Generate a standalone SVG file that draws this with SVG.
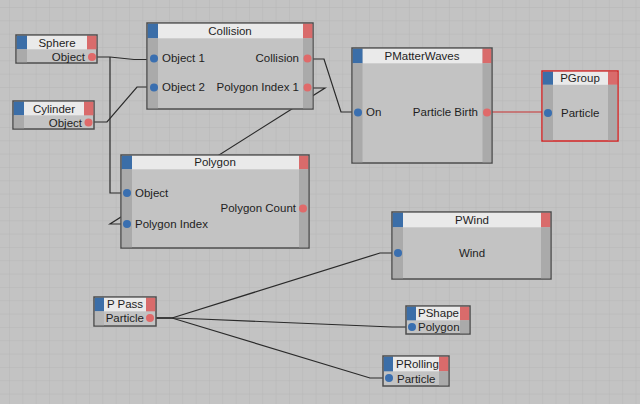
<svg xmlns="http://www.w3.org/2000/svg" width="640" height="404" viewBox="0 0 640 404">
<defs>
<pattern id="grid" x="9" y="7" width="13.33" height="13.33" patternUnits="userSpaceOnUse">
<path d="M0 0H13.33M0 0V13.33" stroke="#b6b6b6" stroke-width="1" fill="none"/>
</pattern>
<style>
.t{font-family:"Liberation Sans",Arial,sans-serif;font-size:11.5px;fill:#1e1e1e}
.m{text-anchor:middle}
.e{text-anchor:end}
.nb{fill:#c3c3c3;stroke:#4e4e4e;stroke-width:1.5}
.col{fill:#aaaaaa}
.hd{fill:#eaeaea}
.bl{fill:#3b6ea8}
.rd{fill:#d96b6b}
.pi{fill:#3a6fb0}
.po{fill:#e06a6a}
.w{fill:none;stroke:#2a2a2a;stroke-width:1.2}
</style>
</defs>
<rect width="640" height="404" fill="#c3c3c3"/>
<rect width="640" height="404" fill="url(#grid)"/>

<g id="connectors">
<polyline class="w" points="97,57 110,57 134,59.5 150,59.5"/>
<polyline class="w" points="110,57 110,193 126,193"/>
<polyline class="w" points="94,122 107,122 137,87 150,87"/>
<polyline class="w" points="313,59 324,59 341,112 355,112"/>
<polyline class="w" points="313,88 325,88 110,224 126,224"/>
<polyline fill="none" stroke="#c83030" stroke-width="1.2" points="492,112 545,112"/>
<polyline class="w" points="156,318 172,318 380,253 395,253"/>
<polyline class="w" points="156,318 172,318 200,319 392,327 409,327"/>
<polyline class="w" points="156,318 172,318 370,378 386,378"/>
</g>

<g id="sphere">
<rect class="nb" x="16" y="35" width="81" height="28"/>
<rect class="hd" x="27" y="35.8" width="60" height="13.5"/>
<rect class="bl" x="16.8" y="35.8" width="10.2" height="13.5"/>
<rect class="rd" x="87" y="35.8" width="9.4" height="13.5"/>
<rect class="col" x="16.8" y="49.3" width="10.2" height="13"/>
<text class="t m" x="57" y="47">Sphere</text>
<text class="t e" x="85" y="61">Object</text>
<circle class="po" cx="92" cy="57" r="4"/>
</g>

<g id="cylinder">
<rect class="nb" x="13" y="101" width="81" height="28"/>
<rect class="hd" x="24" y="101.8" width="60" height="13.5"/>
<rect class="bl" x="13.8" y="101.8" width="10.2" height="13.5"/>
<rect class="rd" x="84" y="101.8" width="9.4" height="13.5"/>
<rect class="col" x="13.8" y="115.3" width="10.2" height="13"/>
<text class="t m" x="54" y="113">Cylinder</text>
<text class="t e" x="82" y="127">Object</text>
<circle class="po" cx="88.5" cy="122.5" r="4"/>
</g>

<g id="collision">
<rect class="nb" x="147" y="23" width="166" height="86"/>
<rect class="hd" x="158" y="23.8" width="145" height="14.5"/>
<rect class="bl" x="147.8" y="23.8" width="10.2" height="14.5"/>
<rect class="rd" x="303" y="23.8" width="9.4" height="14.5"/>
<rect class="col" x="147.8" y="38.3" width="10.2" height="70"/>
<rect class="col" x="303" y="38.3" width="9.4" height="70"/>
<text class="t m" x="230" y="35">Collision</text>
<text class="t" x="162" y="62">Object 1</text>
<text class="t" x="162" y="91">Object 2</text>
<text class="t e" x="299" y="62">Collision</text>
<text class="t e" x="299" y="91">Polygon Index 1</text>
<circle class="pi" cx="154" cy="58.5" r="4"/>
<circle class="pi" cx="154" cy="87.5" r="4"/>
<circle class="po" cx="307.5" cy="58.5" r="4"/>
<circle class="po" cx="307.5" cy="87.5" r="4"/>
</g>

<g id="pmatterwaves">
<rect class="nb" x="352" y="48" width="140" height="115"/>
<rect class="hd" x="362.5" y="48.8" width="120" height="14.5"/>
<rect class="bl" x="352.8" y="48.8" width="9.7" height="14.5"/>
<rect class="rd" x="482.5" y="48.8" width="8.7" height="14.5"/>
<rect class="col" x="352.8" y="63.3" width="9.7" height="99"/>
<rect class="col" x="482.5" y="63.3" width="8.7" height="99"/>
<text class="t m" x="422" y="60">PMatterWaves</text>
<text class="t" x="366" y="116">On</text>
<text class="t e" x="478" y="116">Particle Birth</text>
<circle class="pi" cx="358" cy="112.5" r="4"/>
<circle class="po" cx="487" cy="112.5" r="4"/>
</g>

<g id="pgroup">
<rect x="542" y="71" width="76" height="70" fill="#c3c3c3" stroke="#d42424" stroke-width="1.5"/>
<rect class="hd" x="553" y="71.8" width="55" height="13"/>
<rect class="bl" x="542.8" y="71.8" width="10.2" height="13"/>
<rect class="rd" x="608" y="71.8" width="9.2" height="13"/>
<rect class="col" x="542.8" y="84.8" width="10.2" height="55.4"/>
<rect class="col" x="608" y="84.8" width="9.2" height="55.4"/>
<text class="t m" x="580" y="82">PGroup</text>
<text class="t" x="561" y="117">Particle</text>
<circle class="pi" cx="548" cy="113" r="4"/>
</g>

<g id="polygon">
<rect class="nb" x="121" y="155" width="188" height="93"/>
<rect class="hd" x="132" y="155.8" width="167" height="13.5"/>
<rect class="bl" x="121.8" y="155.8" width="10.2" height="13.5"/>
<rect class="rd" x="299" y="155.8" width="9.2" height="13.5"/>
<rect class="col" x="121.8" y="169.3" width="10.2" height="78"/>
<rect class="col" x="299" y="169.3" width="9.2" height="78"/>
<text class="t m" x="215" y="166">Polygon</text>
<text class="t" x="135" y="197">Object</text>
<text class="t" x="135" y="228">Polygon Index</text>
<text class="t e" x="296" y="212">Polygon Count</text>
<circle class="pi" cx="127" cy="193" r="4"/>
<circle class="pi" cx="127" cy="224" r="4"/>
<circle class="po" cx="303" cy="208.5" r="4"/>
</g>

<g id="pwind">
<rect class="nb" x="392" y="212" width="159" height="67"/>
<rect class="hd" x="403" y="212.8" width="138" height="14.5"/>
<rect class="bl" x="392.8" y="212.8" width="10.2" height="14.5"/>
<rect class="rd" x="541" y="212.8" width="9.2" height="14.5"/>
<rect class="col" x="392.8" y="227.3" width="10.2" height="51"/>
<rect class="col" x="541" y="227.3" width="9.2" height="51"/>
<text class="t m" x="472" y="224">PWind</text>
<text class="t m" x="472" y="257">Wind</text>
<circle class="pi" cx="398" cy="253" r="4"/>
</g>

<g id="ppass">
<rect class="nb" x="94" y="297" width="62" height="29"/>
<rect class="hd" x="104" y="297.8" width="42" height="13.5"/>
<rect class="bl" x="94.8" y="297.8" width="9.2" height="13.5"/>
<rect class="rd" x="146" y="297.8" width="9.2" height="13.5"/>
<rect fill="#b6b6b6" x="94.8" y="311.3" width="9.2" height="14"/>
<text class="t m" x="125" y="308">P Pass</text>
<text class="t e" x="144" y="322">Particle</text>
<circle class="po" cx="150" cy="318" r="4"/>
</g>

<g id="pshape">
<rect class="nb" x="406" y="306" width="64" height="28"/>
<rect class="hd" x="416" y="306.8" width="44" height="13.5"/>
<rect class="bl" x="406.8" y="306.8" width="9.2" height="13.5"/>
<rect class="rd" x="460" y="306.8" width="9.2" height="13.5"/>
<rect class="col" x="460" y="320.3" width="9.2" height="13"/>
<text class="t" x="418" y="317">PShape</text>
<text class="t" x="418" y="331">Polygon</text>
<circle class="pi" cx="412" cy="327" r="4"/>
</g>

<g id="prolling">
<rect class="nb" x="383" y="356" width="66" height="30"/>
<rect class="hd" x="393" y="356.8" width="46" height="14.5"/>
<rect class="bl" x="383.8" y="356.8" width="9.2" height="14.5"/>
<rect class="rd" x="439" y="356.8" width="9.2" height="14.5"/>
<rect class="col" x="439" y="371.3" width="9.2" height="14"/>
<text class="t" x="396" y="368">PRolling</text>
<text class="t" x="397" y="383">Particle</text>
<circle class="pi" cx="389" cy="378" r="4"/>
</g>
</svg>
